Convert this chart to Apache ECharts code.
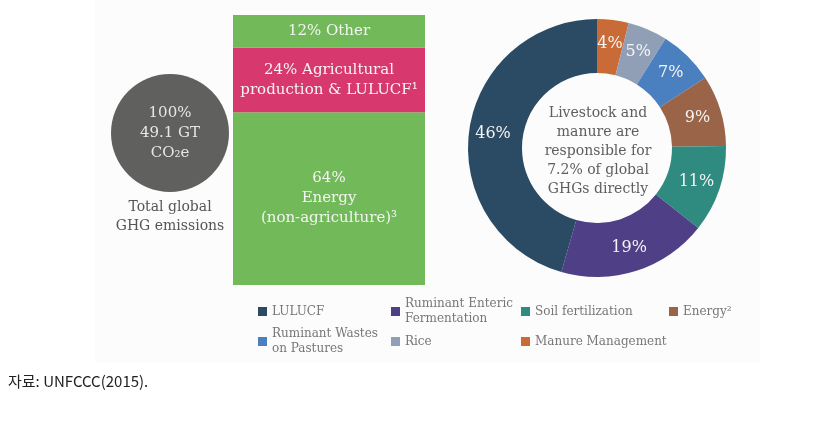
<!DOCTYPE html>
<html lang="en">
<head>
    <meta charset="UTF-8">
    <title>GHG emissions</title>
    <script src="https://cdn.jsdelivr.net/npm/echarts@6/dist/echarts.min.js"></script>
    <style>
        html, body { margin: 0; padding: 0; background: #fff; }
        #main { width: 816px; height: 429px; }
    </style>
</head>
<body>
    <div id="main"></div>
    <script>
        // 左侧柱：总排放构成
        const barNames = ['Energy', 'Agricultural', 'Other'];
        const barValues = [64, 24, 12];
        const barLabels = ['64%\nEnergy\n(non-agriculture)³', '24% Agricultural\nproduction & LULUCF¹', '12% Other'];
        const barColors = ['#72b95a', '#d7386d', '#72b95a'];

        // 环形图：农业排放来源
        const pieNames = ['Manure Management', 'Rice', 'Ruminant Wastes on Pastures', 'Energy', 'Soil fertilization', 'Ruminant Enteric Fermentation', 'LULUCF'];
        const pieValues = [4, 5, 7, 9, 11, 19, 46];
        const pieColors = ['#c86b37', '#909fb5', '#4b80c0', '#9a6448', '#2f8b80', '#4f3f86', '#2b4a63'];
        const legendText = {
            'Manure Management': 'Manure Management',
            'Rice': 'Rice',
            'Ruminant Wastes on Pastures': 'Ruminant Wastes\non Pastures',
            'Energy': 'Energy²',
            'Soil fertilization': 'Soil fertilization',
            'Ruminant Enteric Fermentation': 'Ruminant Enteric\nFermentation',
            'LULUCF': 'LULUCF'
        };

        const font = 'DejaVu Serif';
        let myChart = echarts.init(document.getElementById('main'));

        // 图例位置
        const legendPos = [
            ['LULUCF', 258, 304],
            ['Ruminant Enteric Fermentation', 391, 289],
            ['Soil fertilization', 521, 304],
            ['Energy', 669, 304],
            ['Ruminant Wastes on Pastures', 258, 319],
            ['Rice', 391, 334],
            ['Manure Management', 521, 334]
        ];
        let legends = legendPos.map(function (p) {
            let multi = legendText[p[0]].indexOf('\n') >= 0;
            return {
                data: [p[0]],
                left: p[1],
                top: p[2],
                padding: 0,
                icon: 'rect',
                itemWidth: 9,
                itemHeight: 9,
                itemGap: 5,
                selectedMode: false,
                formatter: function (n) { return legendText[n]; },
                textStyle: {
                    fontFamily: font,
                    fontSize: 12,
                    color: '#777',
                    lineHeight: 15,
                    padding: multi ? [15, 0, 0, 0] : 0
                }
            };
        });

        let option = {
            backgroundColor: '#fff',
            animation: false,
            color: pieColors,
            legend: legends,
            grid: { left: 233, top: 15, width: 192, height: 270 },
            xAxis: { type: 'category', data: ['total'], show: false },
            yAxis: { type: 'value', min: 0, max: 100, show: false },
            graphic: [
                { type: 'rect', z: -10, shape: { x: 95, y: 0, width: 665, height: 362 }, style: { fill: '#fcfcfc' } },
                {
                    type: 'text', x: 170, y: 217, style: {
                        text: 'Total global\nGHG emissions', align: 'center', verticalAlign: 'middle',
                        fontFamily: font, fontSize: 14, lineHeight: 19, fill: '#555'
                    }
                },
                {
                    type: 'text', x: 598, y: 151, z: 10, style: {
                        text: 'Livestock and\nmanure are\nresponsible for\n7.2% of global\nGHGs directly',
                        align: 'center', verticalAlign: 'middle',
                        fontFamily: font, fontSize: 14, lineHeight: 19, fill: '#5e5e5e'
                    }
                },
                {
                    type: 'text', x: 8, y: 381, style: {
                        text: '자료: UNFCCC(2015).', verticalAlign: 'middle',
                        fontFamily: 'Noto Sans CJK KR', fontSize: 15, fill: '#222'
                    }
                }
            ],
            series: [
                {
                    type: 'pie',
                    silent: true,
                    radius: [0, 59],
                    center: [170, 133],
                    label: {
                        position: 'center',
                        formatter: '100%\n49.1 GT\nCO₂e',
                        fontFamily: font,
                        fontSize: 15,
                        lineHeight: 20,
                        color: '#e6e6e6'
                    },
                    labelLine: { show: false },
                    data: [{ value: 100, name: 'total', itemStyle: { color: '#60615f' } }]
                },
                ...barValues.map(function (v, i) {
                    return {
                        type: 'bar',
                        name: barNames[i] + '_bar',
                        stack: 'all',
                        barWidth: '100%',
                        silent: true,
                        itemStyle: { color: barColors[i] },
                        label: {
                            show: true,
                            position: 'inside',
                            formatter: barLabels[i],
                            fontFamily: font,
                            fontSize: 15,
                            lineHeight: 20,
                            color: '#f4f4f4'
                        },
                        data: [v]
                    };
                }),
                {
                    type: 'pie',
                    silent: true,
                    radius: [75, 129],
                    center: [597, 148],
                    startAngle: 90,
                    label: {
                        position: 'inside',
                        formatter: '{c}%',
                        fontFamily: font,
                        fontSize: 16,
                        color: '#f4f4f4'
                    },
                    labelLine: { show: false },
                    data: pieNames.map(function (n, i) {
                        return { name: n, value: pieValues[i] };
                    })
                }
            ]
        };
        myChart.setOption(option);
    </script>
</body>
</html>
